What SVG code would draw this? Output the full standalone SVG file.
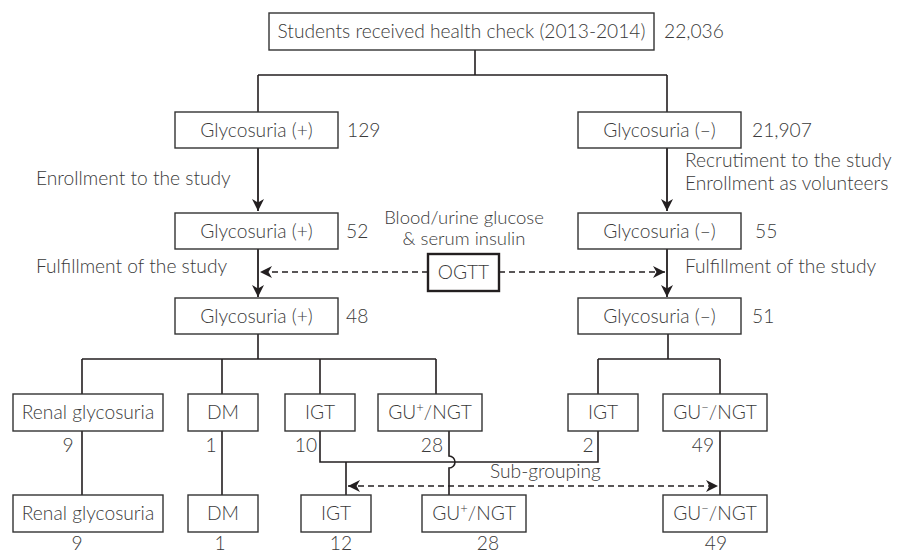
<svg xmlns="http://www.w3.org/2000/svg" width="898" height="553" viewBox="0 0 898 553">
<style>
  rect.b { fill: #ffffff; stroke: #333333; stroke-width: 1.4; }
  rect.o { fill: #ffffff; stroke: #231f20; stroke-width: 2.4; }
  text { font-family: Lato, "Open Sans", "Liberation Sans", sans-serif; font-size: 19.2px; fill: #3a3a3a; font-weight: 300; }
  text.c { text-anchor: middle; }
  text.s { font-size: 18.5px; }
  .ln { fill: none; stroke: #231f20; stroke-width: 1.6; }
  .ar { fill: none; stroke: #231f20; stroke-width: 1.8; }
  .da { fill: none; stroke: #231f20; stroke-width: 1.6; stroke-dasharray: 6 4; }
  .sup { font-size: 13px; }
</style>
<defs>
  <marker id="arr" viewBox="0 0 12 12" refX="12" refY="6" markerWidth="12" markerHeight="12" markerUnits="userSpaceOnUse" orient="auto-start-reverse">
    <path d="M0,0 L12,6 L0,12 L3.5,6 z" fill="#231f20"/>
  </marker>
</defs>

<g id="connectors">
  <path class="ln" d="M475,50 V75 M258,75 H667 M258,75 V112 M667,75 V112"/>
  <line class="ar" x1="258" y1="148" x2="258" y2="211" marker-end="url(#arr)"/>
  <line class="ar" x1="667" y1="148" x2="667" y2="211" marker-end="url(#arr)"/>
  <line class="ar" x1="258" y1="249" x2="258" y2="297" marker-end="url(#arr)"/>
  <line class="ar" x1="667" y1="249" x2="667" y2="297" marker-end="url(#arr)"/>
  <line class="da" x1="428" y1="272" x2="260" y2="272" marker-end="url(#arr)"/>
  <line class="da" x1="499" y1="272" x2="665" y2="272" marker-end="url(#arr)"/>
  <path class="ln" d="M258,334 V359 M82,359 H436 M82,359 V394 M222,359 V394 M320,359 V394 M436,359 V394"/>
  <path class="ln" d="M668,334 V359 M598,359 H720 M598,359 V394 M720,359 V394"/>
  <path class="ln" d="M82,431 V495 M222,431 V495 M720,431 V495"/>
  <path class="ln" d="M320,431 V462 H598 V431 M346,462 V495"/>
  <path class="ln" d="M449,431 V456 A6,6 0 0 1 449,468 V495"/>
  <line class="da" x1="348" y1="486" x2="718" y2="486" marker-start="url(#arr)" marker-end="url(#arr)"/>
</g>

<g id="top">
  <rect class="b" x="269" y="13" width="385" height="37"/>
  <text class="c" x="461.5" y="38">Students received health check (2013-2014)</text>
  <text x="664" y="38">22,036</text>
</g>

<g id="gp1">
  <rect class="b" x="175" y="112" width="163" height="36"/>
  <text class="c" x="256.5" y="136.5">Glycosuria (+)</text>
  <text x="347" y="137">129</text>
</g>
<g id="gn1">
  <rect class="b" x="578" y="112" width="163" height="36"/>
  <text class="c" x="659.5" y="136.5">Glycosuria (–)</text>
  <text x="752" y="137">21,907</text>
</g>

<g id="labels">
  <text x="36" y="185">Enrollment to the study</text>
  <text x="36" y="273">Fulfillment of the study</text>
  <text x="685" y="167">Recrutiment to the study</text>
  <text x="685" y="190">Enrollment as volunteers</text>
  <text x="685" y="273">Fulfillment of the study</text>
  <text class="c s" x="464" y="224">Blood/urine glucose</text>
  <text class="c s" x="464" y="245">&amp; serum insulin</text>
  <text x="490" y="478">Sub-grouping</text>
</g>

<g id="gp2">
  <rect class="b" x="175" y="213" width="163" height="36"/>
  <text class="c" x="256.5" y="237.5">Glycosuria (+)</text>
  <text x="346" y="238">52</text>
</g>
<g id="gn2">
  <rect class="b" x="578" y="213" width="163" height="36"/>
  <text class="c" x="659.5" y="237.5">Glycosuria (–)</text>
  <text x="755" y="238">55</text>
</g>

<g id="ogtt">
  <rect class="o" x="428" y="254" width="71" height="37"/>
  <text class="c" x="463.5" y="279">OGTT</text>
</g>

<g id="gp3">
  <rect class="b" x="175" y="298" width="163" height="36"/>
  <text class="c" x="256.5" y="322.5">Glycosuria (+)</text>
  <text x="346" y="323">48</text>
</g>
<g id="gn3">
  <rect class="b" x="578" y="298" width="163" height="36"/>
  <text class="c" x="659.5" y="322.5">Glycosuria (–)</text>
  <text x="752" y="323">51</text>
</g>

<g id="renal1">
  <rect class="b" x="13" y="394" width="150" height="37"/>
  <text class="c" x="88" y="419">Renal glycosuria</text>
  <text class="c" x="68" y="452">9</text>
</g>
<g id="dm1">
  <rect class="b" x="188" y="394" width="70" height="37"/>
  <text class="c" x="223" y="419">DM</text>
  <text class="c" x="211" y="452">1</text>
</g>
<g id="igt1">
  <rect class="b" x="285" y="394" width="70" height="37"/>
  <text class="c" x="320" y="419">IGT</text>
  <text class="c" x="306" y="452">10</text>
</g>
<g id="gup1">
  <rect class="b" x="378" y="394" width="104" height="37"/>
  <text class="c" x="430" y="419">GU<tspan class="sup" dy="-7">+</tspan><tspan dy="7">/NGT</tspan></text>
  <text class="c" x="432" y="452">28</text>
</g>
<g id="igt2">
  <rect class="b" x="568" y="394" width="70" height="37"/>
  <text class="c" x="603" y="419">IGT</text>
  <text class="c" x="588" y="452">2</text>
</g>
<g id="gun1">
  <rect class="b" x="663" y="394" width="104" height="37"/>
  <text class="c" x="715" y="419">GU<tspan class="sup" dy="-7">−</tspan><tspan dy="7">/NGT</tspan></text>
  <text class="c" x="703" y="452">49</text>
</g>

<g id="renal2">
  <rect class="b" x="13" y="495" width="150" height="37"/>
  <text class="c" x="88" y="520">Renal glycosuria</text>
  <text class="c" x="77" y="550">9</text>
</g>
<g id="dm2">
  <rect class="b" x="188" y="495" width="70" height="37"/>
  <text class="c" x="223" y="520">DM</text>
  <text class="c" x="220" y="550">1</text>
</g>
<g id="igt3">
  <rect class="b" x="301" y="495" width="70" height="37"/>
  <text class="c" x="336" y="520">IGT</text>
  <text class="c" x="341" y="550">12</text>
</g>
<g id="gup2">
  <rect class="b" x="422" y="495" width="104" height="37"/>
  <text class="c" x="474" y="520">GU<tspan class="sup" dy="-7">+</tspan><tspan dy="7">/NGT</tspan></text>
  <text class="c" x="488" y="550">28</text>
</g>
<g id="gun2">
  <rect class="b" x="663" y="495" width="104" height="37"/>
  <text class="c" x="715" y="520">GU<tspan class="sup" dy="-7">−</tspan><tspan dy="7">/NGT</tspan></text>
  <text class="c" x="716" y="550">49</text>
</g>
</svg>
